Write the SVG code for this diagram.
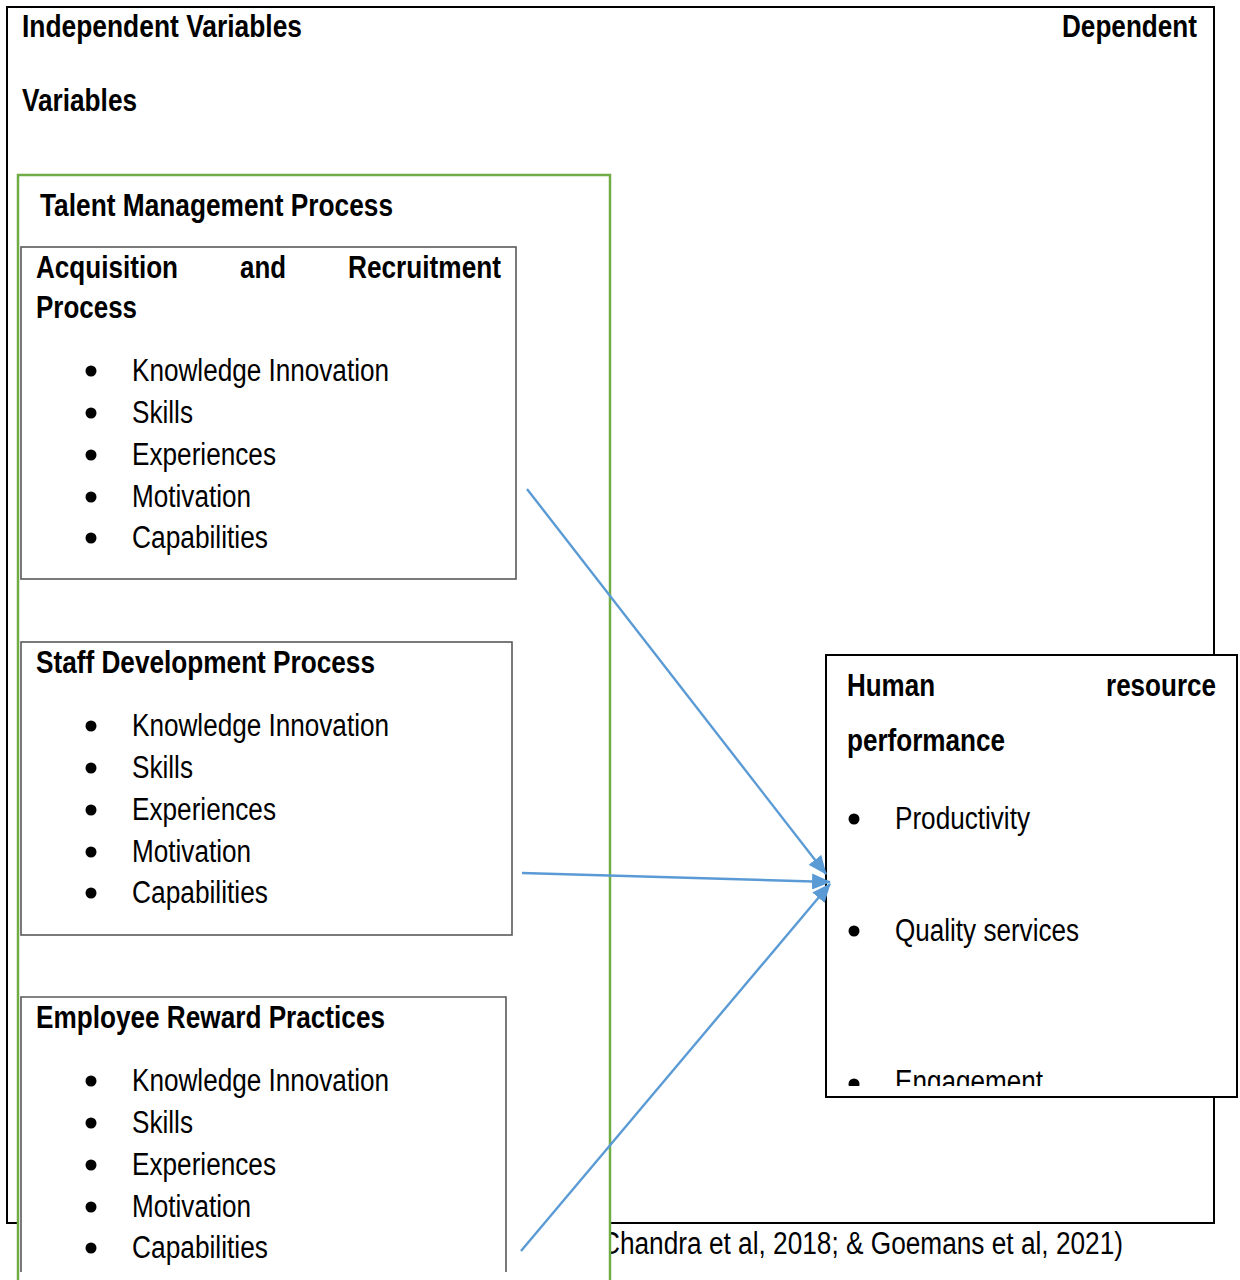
<svg xmlns="http://www.w3.org/2000/svg" width="1240" height="1280" viewBox="0 0 1240 1280">
  <style>
    text { font-family: "Liberation Sans Narrow", "Liberation Sans", Arial, sans-serif; font-size: 31px; fill: #000; }
    .b { font-weight: bold; }
    .frame { fill: none; stroke: #000; stroke-width: 2; }
    .group { fill: #fff; stroke: #70AD47; stroke-width: 2.5; }
    .box { fill: #fff; stroke: #595959; stroke-width: 1.6; }
    .side { stroke: #595959; stroke-width: 1.6; fill: none; }
    .target { fill: #fff; stroke: #000; stroke-width: 2; }
    .dot { fill: #000; }
    .link { stroke: #5B9BD5; stroke-width: 2.4; fill: none; marker-end: url(#head); }
  </style>
  <defs>
    <marker id="head" markerUnits="userSpaceOnUse" markerWidth="20" markerHeight="16" refX="18" refY="8" orient="auto">
      <path d="M0,0 L19,8 L0,16 Z" fill="#5B9BD5"/>
    </marker>
    <clipPath id="hrClip">
      <rect x="827" y="656" width="409" height="430"/>
    </clipPath>
  </defs>

  <!-- outer frame with column headings -->
  <g id="frame">
    <rect class="frame" x="7" y="7" width="1207" height="1216"/>
    <text class="b" x="22" y="37" textLength="280" lengthAdjust="spacingAndGlyphs">Independent Variables</text>
    <text class="b" x="1062" y="37" textLength="135" lengthAdjust="spacingAndGlyphs">Dependent</text>
    <text class="b" x="22" y="111" textLength="115" lengthAdjust="spacingAndGlyphs">Variables</text>
  </g>

  <!-- source line -->
  <g id="source">
    <text x="601" y="1254" textLength="522" lengthAdjust="spacingAndGlyphs">Chandra et al, 2018; &amp; Goemans et al, 2021)</text>
  </g>

  <!-- talent management group -->
  <g id="talent-management">
    <rect class="group" x="18" y="175" width="592" height="1110"/>
    <text class="b" x="40" y="216" textLength="353" lengthAdjust="spacingAndGlyphs">Talent Management Process</text>
  </g>

  <g id="acquisition">
    <rect class="box" x="21" y="247" width="495" height="332"/>
    <text class="b" x="36" y="278" textLength="142" lengthAdjust="spacingAndGlyphs">Acquisition</text>
    <text class="b" x="240" y="278" textLength="46" lengthAdjust="spacingAndGlyphs">and</text>
    <text class="b" x="348" y="278" textLength="153" lengthAdjust="spacingAndGlyphs">Recruitment</text>
    <text class="b" x="36" y="318" textLength="101" lengthAdjust="spacingAndGlyphs">Process</text>
    <circle class="dot" cx="91" cy="371" r="5.5"/>
    <text x="132" y="381" textLength="257" lengthAdjust="spacingAndGlyphs">Knowledge Innovation</text>
    <circle class="dot" cx="91" cy="413" r="5.5"/>
    <text x="132" y="423" textLength="61" lengthAdjust="spacingAndGlyphs">Skills</text>
    <circle class="dot" cx="91" cy="455" r="5.5"/>
    <text x="132" y="465" textLength="144" lengthAdjust="spacingAndGlyphs">Experiences</text>
    <circle class="dot" cx="91" cy="497" r="5.5"/>
    <text x="132" y="507" textLength="119" lengthAdjust="spacingAndGlyphs">Motivation</text>
    <circle class="dot" cx="91" cy="538" r="5.5"/>
    <text x="132" y="548" textLength="136" lengthAdjust="spacingAndGlyphs">Capabilities</text>
  </g>

  <g id="staff-development">
    <rect class="box" x="21" y="642" width="491" height="293"/>
    <text class="b" x="36" y="673" textLength="339" lengthAdjust="spacingAndGlyphs">Staff Development Process</text>
    <circle class="dot" cx="91" cy="726" r="5.5"/>
    <text x="132" y="736" textLength="257" lengthAdjust="spacingAndGlyphs">Knowledge Innovation</text>
    <circle class="dot" cx="91" cy="768" r="5.5"/>
    <text x="132" y="778" textLength="61" lengthAdjust="spacingAndGlyphs">Skills</text>
    <circle class="dot" cx="91" cy="810" r="5.5"/>
    <text x="132" y="820" textLength="144" lengthAdjust="spacingAndGlyphs">Experiences</text>
    <circle class="dot" cx="91" cy="852" r="5.5"/>
    <text x="132" y="862" textLength="119" lengthAdjust="spacingAndGlyphs">Motivation</text>
    <circle class="dot" cx="91" cy="893" r="5.5"/>
    <text x="132" y="903" textLength="136" lengthAdjust="spacingAndGlyphs">Capabilities</text>
  </g>

  <g id="employee-reward">
    <path class="side" d="M21,1272 V997 H506 V1272"/>
    <text class="b" x="36" y="1028" textLength="349" lengthAdjust="spacingAndGlyphs">Employee Reward Practices</text>
    <circle class="dot" cx="91" cy="1081" r="5.5"/>
    <text x="132" y="1091" textLength="257" lengthAdjust="spacingAndGlyphs">Knowledge Innovation</text>
    <circle class="dot" cx="91" cy="1123" r="5.5"/>
    <text x="132" y="1133" textLength="61" lengthAdjust="spacingAndGlyphs">Skills</text>
    <circle class="dot" cx="91" cy="1165" r="5.5"/>
    <text x="132" y="1175" textLength="144" lengthAdjust="spacingAndGlyphs">Experiences</text>
    <circle class="dot" cx="91" cy="1207" r="5.5"/>
    <text x="132" y="1217" textLength="119" lengthAdjust="spacingAndGlyphs">Motivation</text>
    <circle class="dot" cx="91" cy="1248" r="5.5"/>
    <text x="132" y="1258" textLength="136" lengthAdjust="spacingAndGlyphs">Capabilities</text>
  </g>

  <!-- dependent variable -->
  <g id="hr-performance">
    <rect class="target" x="826" y="655" width="411" height="442"/>
    <g clip-path="url(#hrClip)">
      <text class="b" x="847" y="696" textLength="88" lengthAdjust="spacingAndGlyphs">Human</text>
      <text class="b" x="1106" y="696" textLength="110" lengthAdjust="spacingAndGlyphs">resource</text>
      <text class="b" x="847" y="751" textLength="158" lengthAdjust="spacingAndGlyphs">performance</text>
      <circle class="dot" cx="854" cy="819" r="5.5"/>
      <text x="895" y="829" textLength="135" lengthAdjust="spacingAndGlyphs">Productivity</text>
      <circle class="dot" cx="854" cy="931" r="5.5"/>
      <text x="895" y="941" textLength="184" lengthAdjust="spacingAndGlyphs">Quality services</text>
      <circle class="dot" cx="854" cy="1084" r="5.5"/>
      <text x="895" y="1092" textLength="148" lengthAdjust="spacingAndGlyphs">Engagement</text>
    </g>
  </g>

  <!-- connectors -->
  <g id="connectors">
    <line class="link" x1="527" y1="489" x2="826" y2="874"/>
    <line class="link" x1="522" y1="873" x2="830" y2="882"/>
    <line class="link" x1="521" y1="1251" x2="830" y2="884"/>
  </g>
</svg>
